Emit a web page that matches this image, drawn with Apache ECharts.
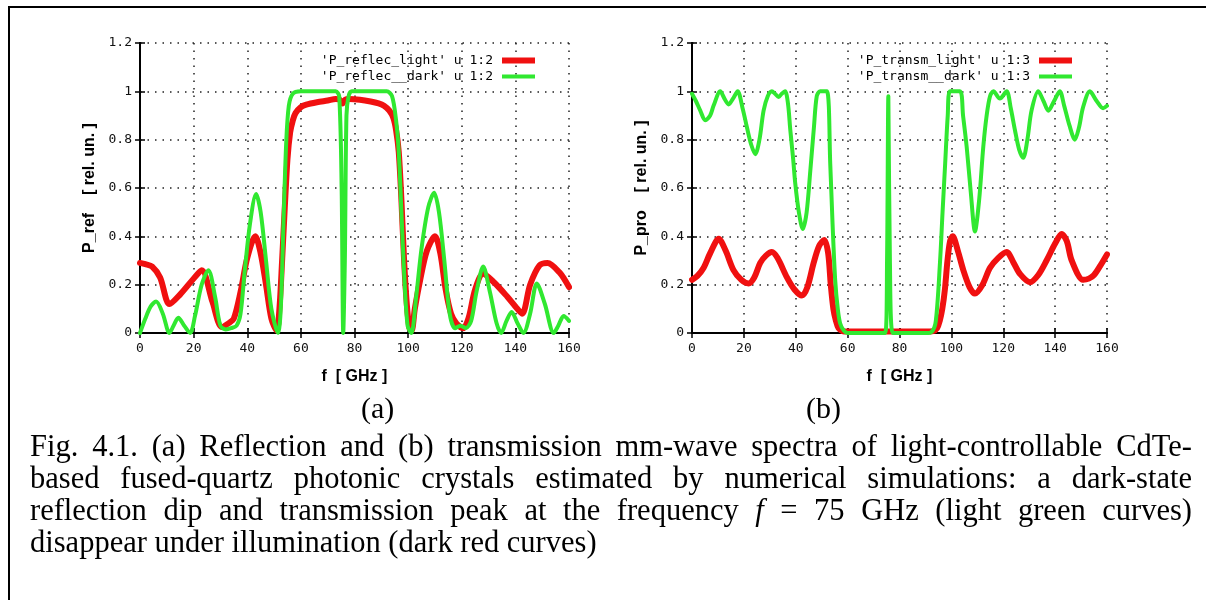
<!DOCTYPE html>
<html>
<head>
<meta charset="utf-8">
<script src="https://cdn.jsdelivr.net/npm/echarts@6/dist/echarts.min.js"></script>
<style>
  html, body { margin: 0; padding: 0; background: #fff; }
  #wrap { position: relative; width: 1206px; height: 600px; overflow: hidden; }
  #chart { position: absolute; left: 0; top: 0; width: 1206px; height: 600px; }
  #frame { position: absolute; left: 8px; top: 6px; width: 1198px; height: 594px;
           border-top: 2px solid #000; border-left: 2px solid #000; box-sizing: border-box; }
  .sub { position: absolute; top: 392px; font-family: "Liberation Serif", "Times New Roman", serif;
         font-size: 30px; line-height: 32px; color: #000; }
  #caption { position: absolute; left: 30px; top: 430px; width: 1162px;
             font-family: "Liberation Serif", "Times New Roman", serif; font-size: 30.5px;
             line-height: 32px; color: #000; }
  #caption .j { text-align: justify; text-align-last: justify; white-space: nowrap; }
  #caption .l { text-align: left; white-space: nowrap; }
</style>
</head>
<body>
<div id="wrap">
  <div id="chart"></div>
  <div id="frame"></div>
  <div class="sub" id="subA" style="left:361px">(a)</div>
  <div class="sub" id="subB" style="left:806px">(b)</div>
  <div id="caption">
    <div class="j">Fig. 4.1. (a) Reflection and (b) transmission mm-wave spectra of light-controllable CdTe-</div>
    <div class="j">based fused-quartz photonic crystals estimated by numerical simulations: a dark-state</div>
    <div class="j">reflection dip and transmission peak at the frequency <i>f</i> = 75 GHz (light green curves)</div>
    <div class="l">disappear under illumination (dark red curves)</div>
  </div>
</div>
<script>
// ---------- data ----------
const xTicks = [0, 20, 40, 60, 80, 100, 120, 140, 160];
const yTicks = [0, 0.2, 0.4, 0.6, 0.8, 1, 1.2];

const reflecLightF = [0, 2, 4.5, 7.5, 11, 15, 20, 23, 27, 30.5, 33, 35, 37.5, 40, 43, 45, 47, 49, 51, 52, 53, 54, 55, 56, 57, 58, 60, 62, 66, 70, 73, 74.5, 75.5, 76.5, 78, 82, 86, 89, 91, 93, 94.5, 95.5, 96.5, 97.5, 98.5, 99.5, 100.5, 101.3, 102.5, 104.5, 107, 110, 112, 114, 116, 118, 120.5, 122.5, 125, 128, 132, 137, 140, 142.5, 145.5, 149, 152, 156.5, 160];
const reflecLightV = [0.29, 0.285, 0.275, 0.23, 0.12, 0.16, 0.225, 0.26, 0.13, 0.025, 0.04, 0.06, 0.17, 0.31, 0.40, 0.33, 0.20, 0.06, 0.01, 0.1, 0.3, 0.52, 0.72, 0.83, 0.88, 0.91, 0.935, 0.945, 0.955, 0.962, 0.968, 0.965, 0.95, 0.965, 0.968, 0.965, 0.958, 0.95, 0.94, 0.92, 0.89, 0.84, 0.75, 0.55, 0.3, 0.12, 0.02, 0.01, 0.1, 0.22, 0.34, 0.40, 0.33, 0.18, 0.08, 0.04, 0.02, 0.06, 0.18, 0.245, 0.21, 0.15, 0.11, 0.08, 0.2, 0.28, 0.29, 0.25, 0.19];

const reflecDarkF = [0, 2, 4, 6, 8.5, 11, 12.5, 14.3, 16.5, 18.7, 20.5, 23, 25.5, 28, 30, 32, 34, 36, 37.5, 39, 41, 43.3, 45, 47, 49, 51.5, 52.5, 53.5, 54.5, 55.5, 57, 60, 65, 70, 73, 74.3, 75.2, 75.8, 76.4, 77, 77.8, 79, 85, 92, 94, 95.5, 96.5, 97.5, 98.5, 99.8, 101.2, 103, 105, 107.5, 109.7, 111.5, 113.5, 115.5, 117.5, 119.5, 121.5, 123.5, 125.5, 128, 130.5, 133, 134.7, 136.7, 138.6, 140.8, 143, 145.5, 148, 151, 154.3, 156, 158, 160];
const reflecDarkV = [0.0, 0.06, 0.11, 0.13, 0.08, 0.0, 0.03, 0.063, 0.03, 0.0, 0.07, 0.2, 0.26, 0.15, 0.03, 0.015, 0.02, 0.03, 0.08, 0.25, 0.45, 0.575, 0.5, 0.3, 0.1, 0.0, 0.1, 0.45, 0.78, 0.94, 0.99, 1.0, 1.0, 1.0, 1.0, 0.98, 0.6, 0.0, 0.3, 0.9, 0.98, 1.0, 1.0, 1.0, 0.98, 0.88, 0.75, 0.5, 0.25, 0.03, 0.0, 0.15, 0.35, 0.52, 0.58, 0.5, 0.3, 0.08, 0.02, 0.03, 0.02, 0.05, 0.17, 0.275, 0.17, 0.04, 0.0, 0.05, 0.087, 0.04, 0.0, 0.08, 0.205, 0.12, 0.0, 0.03, 0.07, 0.05];

const transmLightF = [0, 2, 4.5, 7, 10.3, 13, 16, 19, 21.8, 24, 26.3, 28.5, 30.8, 33, 36.6, 39.5, 42.4, 44.5, 46.9, 49, 51, 52.5, 53.5, 54.5, 55.5, 56.5, 58, 60, 70, 80, 90, 93, 94.5, 95.5, 96.5, 97.5, 98.5, 99.5, 100.5, 102.5, 104.6, 107, 109.1, 112, 114.9, 118, 121.3, 124, 126.4, 130.3, 133.5, 136.7, 140, 142.5, 144.5, 146.4, 150.8, 153, 155, 157.5, 160];
const transmLightV = [0.22, 0.235, 0.27, 0.33, 0.39, 0.34, 0.26, 0.22, 0.205, 0.23, 0.29, 0.32, 0.335, 0.31, 0.23, 0.18, 0.155, 0.19, 0.29, 0.36, 0.385, 0.33, 0.2, 0.1, 0.05, 0.02, 0.008, 0.006, 0.006, 0.006, 0.006, 0.008, 0.02, 0.05, 0.1, 0.18, 0.3, 0.38, 0.40, 0.34, 0.26, 0.19, 0.163, 0.2, 0.27, 0.31, 0.335, 0.29, 0.245, 0.21, 0.24, 0.30, 0.37, 0.41, 0.38, 0.30, 0.22, 0.225, 0.24, 0.28, 0.325];

const transmDarkF = [0, 1.5, 3.2, 5.1, 7, 8.3, 10.9, 12.5, 14.1, 15.8, 17.6, 19.5, 21.2, 22.8, 24.4, 26, 27.6, 29.2, 30.8, 32, 33.4, 34.6, 35.9, 37, 37.9, 39, 39.8, 41.2, 42.7, 44.2, 45.6, 47, 48.1, 49.4, 52, 53.3, 54.2, 55.2, 56.2, 57.1, 58.5, 60, 70, 74.5, 75.2, 75.7, 76.3, 77.4, 80, 90, 92.4, 94, 95.6, 96.6, 97.6, 98.6, 99.5, 103.3, 104.5, 105.9, 107.5, 109.1, 110.7, 112.3, 113.6, 114.9, 116.2, 118.7, 121.3, 122.9, 124.5, 126.1, 127.7, 129.3, 130.9, 133.5, 135.5, 137.4, 139.6, 141.8, 143.5, 145.5, 147.6, 149.2, 150.8, 153.4, 156, 158.5, 160];
const transmDarkV = [0.99, 0.96, 0.92, 0.88, 0.9, 0.94, 1.0, 0.97, 0.946, 0.97, 1.0, 0.93, 0.85, 0.78, 0.74, 0.8, 0.92, 0.98, 1.0, 0.99, 0.977, 0.99, 1.0, 0.95, 0.84, 0.72, 0.62, 0.5, 0.43, 0.5, 0.67, 0.85, 0.98, 1.0, 1.0, 0.7, 0.45, 0.22, 0.1, 0.04, 0.01, 0.0, 0.0, 0.0, 0.3, 0.98, 0.3, 0.0, 0.0, 0.0, 0.005, 0.05, 0.29, 0.5, 0.70, 0.9, 1.0, 1.0, 0.9, 0.77, 0.58, 0.42, 0.55, 0.77, 0.9, 0.98, 1.0, 0.97, 1.0, 0.93, 0.84, 0.76, 0.725, 0.8, 0.92, 1.0, 0.96, 0.92, 0.96, 1.0, 0.94, 0.86, 0.80, 0.85, 0.935, 1.0, 0.96, 0.93, 0.94];

const seriesNames = [
  "'P_reflec_light' u 1:2", "'P_reflec__dark' u 1:2",
  "'P_transm_light' u 1:3", "'P_transm__dark' u 1:3"
];
const xTitle = 'f  [ GHz ]';
const yTitles = ['P_ref    [ rel. un. ]', 'P_pro    [ rel. un. ]'];

// ---------- chart ----------
const RED = '#f01010';
const GREEN = '#30e830';
const MONO = '"DejaVu Sans Mono", monospace';
const SANS = '"Liberation Sans", Arial, sans-serif';

function zip(f, v) { return f.map((x, i) => [x, v[i]]); }

const grids = [
  { left: 140, top: 43, width: 429, height: 290 },
  { left: 692, top: 43, width: 415, height: 290 }
];

const xAxes = [], yAxes = [];
grids.forEach((g, gi) => {
  xAxes.push({
    type: 'value', gridIndex: gi, min: xTicks[0], max: xTicks[xTicks.length - 1], interval: 20,
    position: 'bottom',
    name: xTitle, nameLocation: 'middle', nameGap: 36,
    nameTextStyle: { fontFamily: SANS, fontWeight: 'bold', fontSize: 16, color: '#000' },
    axisLine: { show: true, lineStyle: { color: '#000', width: 2 } },
    axisTick: { show: true, inside: true, length: 5, lineStyle: { color: '#000', width: 1.5 } },
    axisLabel: { fontFamily: MONO, fontSize: 13, color: '#111', margin: 9 },
    splitLine: { show: true, lineStyle: { color: '#222', width: 1.5, type: [1.5, 6] } }
  });
  xAxes.push({
    type: 'value', gridIndex: gi, min: xTicks[0], max: xTicks[xTicks.length - 1], interval: 20,
    position: 'top',
    axisLine: { show: true, lineStyle: { color: '#000', width: 2 } },
    axisTick: { show: true, inside: true, length: 5, lineStyle: { color: '#000', width: 1.5 } },
    axisLabel: { show: false }, splitLine: { show: false }
  });
  yAxes.push({
    type: 'value', gridIndex: gi, min: yTicks[0], max: yTicks[yTicks.length - 1], interval: 0.2,
    position: 'left',
    name: yTitles[gi], nameLocation: 'middle', nameGap: 42, nameRotate: 90,
    nameTextStyle: { fontFamily: SANS, fontWeight: 'bold', fontSize: 16, color: '#000' },
    axisLine: { show: true, lineStyle: { color: '#000', width: 2 } },
    axisTick: { show: true, inside: true, length: 5, lineStyle: { color: '#000', width: 1.5 } },
    axisLabel: { fontFamily: MONO, fontSize: 13, color: '#111', margin: 8 },
    splitLine: { show: true, lineStyle: { color: '#222', width: 1.5, type: [1.5, 6] } }
  });
  yAxes.push({
    type: 'value', gridIndex: gi, min: yTicks[0], max: yTicks[yTicks.length - 1], interval: 0.2,
    position: 'right',
    axisLine: { show: true, lineStyle: { color: '#000', width: 2 } },
    axisTick: { show: true, inside: true, length: 5, lineStyle: { color: '#000', width: 1.5 } },
    axisLabel: { show: false }, splitLine: { show: false }
  });
});

function lineSeries(name, gi, data, color, width, z) {
  return {
    name: name, type: 'line', xAxisIndex: gi * 2, yAxisIndex: gi * 2,
    data: data, smooth: 0.3, symbol: 'none', showSymbol: false, z: z,
    lineStyle: { color: color, width: width, cap: 'round', join: 'round' },
    itemStyle: { color: color },
    emphasis: { disabled: true }, animation: false
  };
}

const legendBase = {
  orient: 'vertical', align: 'right', top: 49, itemGap: 3,
  itemWidth: 33, itemHeight: 14, icon: 'rect',
  textStyle: { fontFamily: MONO, fontSize: 13, color: '#000', padding: [0, 4, 0, 0] },
  selectedMode: false
};

const option = {
  animation: false,
  backgroundColor: '#fff',
  grid: grids.map(g => Object.assign({ show: false }, g)),
  xAxis: xAxes,
  yAxis: yAxes,
  legend: [
    Object.assign({}, legendBase, {
      right: 1206 - 540,
      data: [
        { name: seriesNames[0], itemStyle: { color: RED }, icon: 'path://M0,0 L33,0 L33,6 L0,6 Z' },
        { name: seriesNames[1], itemStyle: { color: GREEN }, icon: 'path://M0,0 L33,0 L33,4 L0,4 Z' }
      ]
    }),
    Object.assign({}, legendBase, {
      right: 1206 - 1077,
      data: [
        { name: seriesNames[2], itemStyle: { color: RED }, icon: 'path://M0,0 L33,0 L33,6 L0,6 Z' },
        { name: seriesNames[3], itemStyle: { color: GREEN }, icon: 'path://M0,0 L33,0 L33,4 L0,4 Z' }
      ]
    })
  ],
  series: [
    lineSeries(seriesNames[0], 0, zip(reflecLightF, reflecLightV), RED, 6, 3),
    lineSeries(seriesNames[1], 0, zip(reflecDarkF, reflecDarkV), GREEN, 4, 4),
    lineSeries(seriesNames[2], 1, zip(transmLightF, transmLightV), RED, 6, 3),
    lineSeries(seriesNames[3], 1, zip(transmDarkF, transmDarkV), GREEN, 4, 4)
  ]
};

const chart = echarts.init(document.getElementById('chart'), null, { renderer: 'canvas', width: 1206, height: 600 });
chart.setOption(option);
</script>
</body>
</html>
